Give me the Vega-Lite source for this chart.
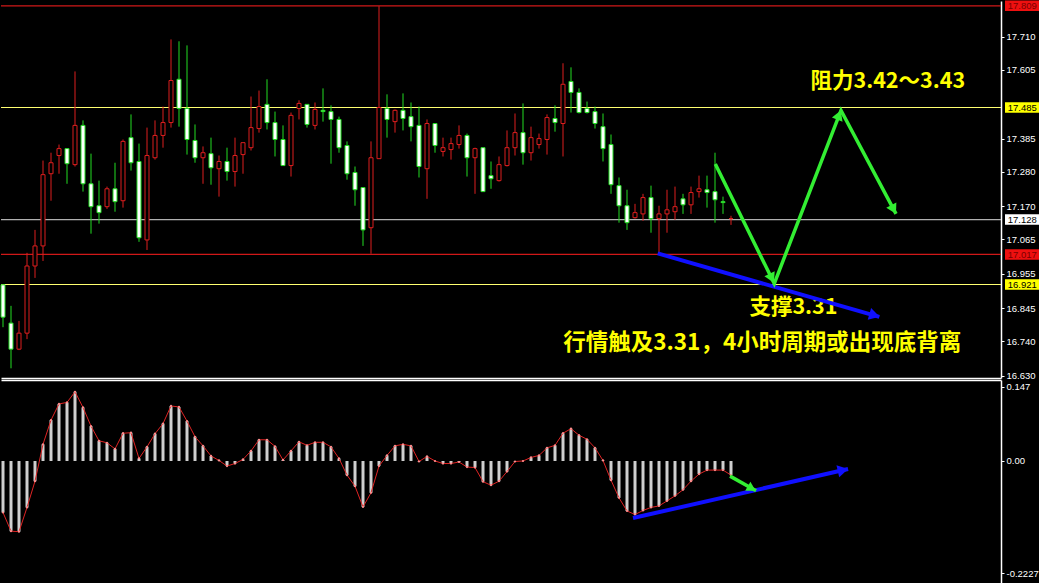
{
"$schema": "https://vega.github.io/schema/vega-lite/v6.json",
"background": "#000000",
"padding": 0,
"spacing": 2,
"bounds": "flush",
"config": {"view": {"stroke": null}, "axis": {"labelFont": "Liberation Sans", "labelFontSize": 9.5, "labelColor": "#ffffff", "domainColor": "#ffffff", "tickColor": "#ffffff", "grid": false, "title": null}},
"datasets": {
"bars": [
{"i":0,"o":16.920,"h":16.920,"l":16.785,"c":16.817,"m":-0.102},
{"i":1,"o":16.798,"h":16.853,"l":16.654,"c":16.715,"m":-0.139},
{"i":2,"o":16.715,"h":16.805,"l":16.712,"c":16.766,"m":-0.140},
{"i":3,"o":16.766,"h":17.022,"l":16.747,"c":16.980,"m":-0.092},
{"i":4,"o":16.980,"h":17.095,"l":16.942,"c":17.044,"m":-0.040},
{"i":5,"o":17.044,"h":17.316,"l":16.996,"c":17.271,"m":0.033},
{"i":6,"o":17.274,"h":17.341,"l":17.188,"c":17.309,"m":0.081},
{"i":7,"o":17.332,"h":17.367,"l":17.274,"c":17.354,"m":0.113},
{"i":8,"o":17.354,"h":17.354,"l":17.242,"c":17.306,"m":0.116},
{"i":9,"o":17.303,"h":17.600,"l":17.297,"c":17.428,"m":0.137},
{"i":10,"o":17.428,"h":17.444,"l":17.217,"c":17.242,"m":0.106},
{"i":11,"o":17.242,"h":17.338,"l":17.083,"c":17.169,"m":0.069},
{"i":12,"o":17.172,"h":17.252,"l":17.115,"c":17.150,"m":0.040},
{"i":13,"o":17.169,"h":17.233,"l":17.162,"c":17.226,"m":0.036},
{"i":14,"o":17.226,"h":17.309,"l":17.153,"c":17.185,"m":0.024},
{"i":15,"o":17.188,"h":17.383,"l":17.166,"c":17.377,"m":0.055},
{"i":16,"o":17.389,"h":17.463,"l":17.284,"c":17.309,"m":0.056},
{"i":17,"o":17.313,"h":17.370,"l":17.057,"c":17.070,"m":0.005},
{"i":18,"o":17.063,"h":17.421,"l":17.031,"c":17.332,"m":0.028},
{"i":19,"o":17.325,"h":17.444,"l":17.319,"c":17.396,"m":0.054},
{"i":20,"o":17.396,"h":17.488,"l":17.357,"c":17.437,"m":0.074},
{"i":21,"o":17.437,"h":17.702,"l":17.421,"c":17.571,"m":0.109},
{"i":22,"o":17.575,"h":17.696,"l":17.424,"c":17.482,"m":0.107},
{"i":23,"o":17.482,"h":17.683,"l":17.335,"c":17.383,"m":0.079},
{"i":24,"o":17.380,"h":17.431,"l":17.309,"c":17.325,"m":0.048},
{"i":25,"o":17.325,"h":17.361,"l":17.242,"c":17.341,"m":0.030},
{"i":26,"o":17.338,"h":17.389,"l":17.239,"c":17.293,"m":0.010},
{"i":27,"o":17.290,"h":17.332,"l":17.201,"c":17.313,"m":0.001},
{"i":28,"o":17.313,"h":17.357,"l":17.252,"c":17.281,"m":-0.010},
{"i":29,"o":17.281,"h":17.389,"l":17.233,"c":17.332,"m":-0.005},
{"i":30,"o":17.335,"h":17.373,"l":17.274,"c":17.373,"m":0.003},
{"i":31,"o":17.357,"h":17.520,"l":17.348,"c":17.421,"m":0.020},
{"i":32,"o":17.418,"h":17.539,"l":17.405,"c":17.488,"m":0.042},
{"i":33,"o":17.495,"h":17.575,"l":17.415,"c":17.437,"m":0.042},
{"i":34,"o":17.437,"h":17.472,"l":17.329,"c":17.383,"m":0.029},
{"i":35,"o":17.383,"h":17.428,"l":17.300,"c":17.300,"m":0.002},
{"i":36,"o":17.300,"h":17.469,"l":17.265,"c":17.460,"m":0.020},
{"i":37,"o":17.482,"h":17.508,"l":17.447,"c":17.498,"m":0.038},
{"i":38,"o":17.495,"h":17.495,"l":17.421,"c":17.431,"m":0.031},
{"i":39,"o":17.428,"h":17.501,"l":17.415,"c":17.479,"m":0.037},
{"i":40,"o":17.476,"h":17.546,"l":17.440,"c":17.472,"m":0.037},
{"i":41,"o":17.472,"h":17.492,"l":17.306,"c":17.447,"m":0.028},
{"i":42,"o":17.447,"h":17.456,"l":17.341,"c":17.357,"m":0.005},
{"i":43,"o":17.364,"h":17.377,"l":17.255,"c":17.274,"m":-0.028},
{"i":44,"o":17.278,"h":17.297,"l":17.172,"c":17.223,"m":-0.050},
{"i":45,"o":17.230,"h":17.230,"l":17.044,"c":17.095,"m":-0.091},
{"i":46,"o":17.102,"h":17.377,"l":17.019,"c":17.325,"m":-0.063},
{"i":47,"o":17.322,"h":17.808,"l":17.322,"c":17.485,"m":-0.010},
{"i":48,"o":17.482,"h":17.527,"l":17.389,"c":17.447,"m":0.011},
{"i":49,"o":17.440,"h":17.479,"l":17.405,"c":17.476,"m":0.030},
{"i":50,"o":17.476,"h":17.530,"l":17.412,"c":17.450,"m":0.033},
{"i":51,"o":17.456,"h":17.501,"l":17.377,"c":17.424,"m":0.030},
{"i":52,"o":17.428,"h":17.488,"l":17.262,"c":17.297,"m":-0.001},
{"i":53,"o":17.290,"h":17.447,"l":17.194,"c":17.434,"m":0.009},
{"i":54,"o":17.434,"h":17.434,"l":17.341,"c":17.364,"m":0.000},
{"i":55,"o":17.345,"h":17.389,"l":17.329,"c":17.357,"m":-0.005},
{"i":56,"o":17.351,"h":17.389,"l":17.319,"c":17.370,"m":-0.005},
{"i":57,"o":17.367,"h":17.428,"l":17.354,"c":17.396,"m":-0.002},
{"i":58,"o":17.396,"h":17.402,"l":17.265,"c":17.325,"m":-0.012},
{"i":59,"o":17.325,"h":17.357,"l":17.210,"c":17.354,"m":-0.013},
{"i":60,"o":17.357,"h":17.357,"l":17.217,"c":17.217,"m":-0.041},
{"i":61,"o":17.268,"h":17.313,"l":17.226,"c":17.258,"m":-0.048},
{"i":62,"o":17.252,"h":17.329,"l":17.249,"c":17.303,"m":-0.040},
{"i":63,"o":17.300,"h":17.412,"l":17.297,"c":17.357,"m":-0.021},
{"i":64,"o":17.357,"h":17.466,"l":17.332,"c":17.405,"m":-0.001},
{"i":65,"o":17.405,"h":17.498,"l":17.303,"c":17.341,"m":0.000},
{"i":66,"o":17.341,"h":17.424,"l":17.316,"c":17.389,"m":0.007},
{"i":67,"o":17.367,"h":17.402,"l":17.354,"c":17.386,"m":0.011},
{"i":68,"o":17.383,"h":17.463,"l":17.335,"c":17.453,"m":0.026},
{"i":69,"o":17.450,"h":17.492,"l":17.408,"c":17.437,"m":0.031},
{"i":70,"o":17.434,"h":17.626,"l":17.329,"c":17.559,"m":0.055},
{"i":71,"o":17.568,"h":17.613,"l":17.469,"c":17.533,"m":0.064},
{"i":72,"o":17.533,"h":17.546,"l":17.466,"c":17.469,"m":0.051},
{"i":73,"o":17.482,"h":17.504,"l":17.466,"c":17.469,"m":0.043},
{"i":74,"o":17.472,"h":17.488,"l":17.418,"c":17.434,"m":0.026},
{"i":75,"o":17.424,"h":17.466,"l":17.313,"c":17.354,"m":0.001},
{"i":76,"o":17.367,"h":17.399,"l":17.210,"c":17.239,"m":-0.038},
{"i":77,"o":17.236,"h":17.262,"l":17.118,"c":17.172,"m":-0.073},
{"i":78,"o":17.172,"h":17.223,"l":17.095,"c":17.118,"m":-0.099},
{"i":79,"o":17.134,"h":17.178,"l":17.131,"c":17.150,"m":-0.106},
{"i":80,"o":17.146,"h":17.210,"l":17.124,"c":17.198,"m":-0.098},
{"i":81,"o":17.198,"h":17.236,"l":17.086,"c":17.131,"m":-0.092},
{"i":82,"o":17.131,"h":17.172,"l":17.019,"c":17.146,"m":-0.089},
{"i":83,"o":17.146,"h":17.223,"l":17.086,"c":17.159,"m":-0.079},
{"i":84,"o":17.153,"h":17.233,"l":17.127,"c":17.169,"m":-0.069},
{"i":85,"o":17.194,"h":17.210,"l":17.146,"c":17.175,"m":-0.057},
{"i":86,"o":17.175,"h":17.233,"l":17.146,"c":17.214,"m":-0.040},
{"i":87,"o":17.217,"h":17.268,"l":17.198,"c":17.226,"m":-0.026},
{"i":88,"o":17.223,"h":17.268,"l":17.166,"c":17.214,"m":-0.018},
{"i":89,"o":17.217,"h":17.341,"l":17.118,"c":17.191,"m":-0.018},
{"i":90,"o":17.185,"h":17.201,"l":17.146,"c":17.182,"m":-0.018},
{"i":91,"o":17.131,"h":17.140,"l":17.111,"c":17.131,"m":-0.028}
],
"levels": [
{"level":17.809,"kind":"high"},
{"level":17.485,"kind":"resistance"},
{"level":17.128,"kind":"last"},
{"level":17.017,"kind":"low"},
{"level":16.921,"kind":"support"}
],
"notes": [
{"text":"阻力3.42～3.43","i":110.6,"p":17.565,"size":"s"},
{"text":"支撑3.31","i":98.8,"p":16.846,"size":"s"},
{"text":"行情触及3.31，4小时周期或出现底背离","i":94.9,"p":16.734,"size":"l"}
],
"greenTop": [
{"seq":0,"i":89.04,"p":17.305},
{"seq":1,"i":96.41,"p":16.924},
{"seq":2,"i":104.75,"p":17.476},
{"seq":3,"i":111.63,"p":17.146}
],
"blueTop": [
{"seq":0,"i":81.84,"p":17.020},
{"seq":1,"i":109.54,"p":16.818}
],
"blueLow": [
{"seq":0,"i":78.75,"v":-0.113},
{"seq":1,"i":105.63,"v":-0.016}
],
"greenLow": [
{"seq":0,"i":90.88,"v":-0.030},
{"seq":1,"i":94.13,"v":-0.059}
]
},
"vconcat": [
{
"width": 1000,
"height": 377,
"layer": [
{"data": {"name": "levels"}, "mark": {"type": "rule", "strokeWidth": 1.2},
 "encoding": {"y": {"field": "level", "type": "quantitative", "scale": {"domain": [16.6231, 17.8244], "nice": false, "zero": false, "padding": 0},
      "axis": {"orient": "right", "values": [17.71, 17.605, 17.385, 17.28, 17.17, 17.065, 16.955, 16.845, 16.74, 16.63], "format": ".3f", "tickSize": 3, "labelPadding": 2, "domainWidth": 1.5}},
  "stroke": {"condition": [{"test": "datum.kind == 'resistance' || datum.kind == 'support'", "value": "#ffff70"}, {"test": "datum.kind == 'last'", "value": "#b0b0b0"}], "value": "#d01818"}}},
{"data": {"name": "bars"}, "mark": {"type": "rule", "strokeWidth": 1},
 "encoding": {"x": {"field": "i", "type": "quantitative", "scale": {"domain": [-0.25, 124.75], "nice": false, "zero": false, "padding": 0},
      "axis": {"orient": "bottom", "labels": false, "ticks": false, "domain": true, "domainWidth": 1.5}},
  "y": {"field": "l", "type": "quantitative"}, "y2": {"field": "h"},
  "color": {"condition": {"test": "datum.c >= datum.o", "value": "#dc1e1e"}, "value": "#22dc22"}}},
{"data": {"name": "bars"}, "mark": {"type": "bar", "width": 4, "strokeWidth": 1},
 "encoding": {"x": {"field": "i", "type": "quantitative"}, "y": {"field": "o", "type": "quantitative"}, "y2": {"field": "c"},
  "fill": {"condition": {"test": "datum.c >= datum.o", "value": "#000000"}, "value": "#ffffff"},
  "stroke": {"condition": {"test": "datum.c >= datum.o", "value": "#dc1e1e"}, "value": "#22dc22"}}},
{"data": {"name": "notes"}, "transform": [{"filter": "datum.size == 's'"}],
 "mark": {"type": "text", "font": "Noto Sans CJK SC", "fontWeight": "bold", "fontSize": 21.5, "color": "#ffff00", "align": "center", "baseline": "middle"},
 "encoding": {"x": {"field": "i", "type": "quantitative"}, "y": {"field": "p", "type": "quantitative"}, "text": {"field": "text"}}},
{"data": {"name": "notes"}, "transform": [{"filter": "datum.size == 'l'"}],
 "mark": {"type": "text", "font": "Noto Sans CJK SC", "fontWeight": "bold", "fontSize": 22.5, "color": "#ffff00", "align": "center", "baseline": "middle"},
 "encoding": {"x": {"field": "i", "type": "quantitative"}, "y": {"field": "p", "type": "quantitative"}, "text": {"field": "text"}}},
{"data": {"name": "blueTop"}, "mark": {"type": "line", "color": "#1010ff", "strokeWidth": 4},
 "encoding": {"x": {"field": "i", "type": "quantitative"}, "y": {"field": "p", "type": "quantitative"}, "order": {"field": "seq"}}},
{"data": {"values": [{"i": 108.94, "p": 16.823}]}, "mark": {"type": "point", "shape": "triangle-right", "filled": true, "opacity": 1, "size": 150, "angle": 16, "color": "#1010ff"},
 "encoding": {"x": {"field": "i", "type": "quantitative"}, "y": {"field": "p", "type": "quantitative"}}},
{"data": {"name": "greenTop"}, "mark": {"type": "line", "color": "#33ee33", "strokeWidth": 3.5},
 "encoding": {"x": {"field": "i", "type": "quantitative"}, "y": {"field": "p", "type": "quantitative"}, "order": {"field": "seq"}}},
{"data": {"values": [{"i": 96.09, "p": 16.941}]}, "mark": {"type": "point", "shape": "triangle-right", "filled": true, "opacity": 1, "size": 130, "angle": 64, "color": "#33ee33"},
 "encoding": {"x": {"field": "i", "type": "quantitative"}, "y": {"field": "p", "type": "quantitative"}}},
{"data": {"values": [{"i": 104.5, "p": 17.461}]}, "mark": {"type": "point", "shape": "triangle-right", "filled": true, "opacity": 1, "size": 130, "angle": -69, "color": "#33ee33"},
 "encoding": {"x": {"field": "i", "type": "quantitative"}, "y": {"field": "p", "type": "quantitative"}}},
{"data": {"values": [{"i": 111.33, "p": 17.16}]}, "mark": {"type": "point", "shape": "triangle-right", "filled": true, "opacity": 1, "size": 130, "angle": 62, "color": "#33ee33"},
 "encoding": {"x": {"field": "i", "type": "quantitative"}, "y": {"field": "p", "type": "quantitative"}}},
{"data": {"name": "levels"}, "mark": {"type": "rule", "strokeWidth": 10.5},
 "encoding": {"x": {"datum": 125.25, "type": "quantitative"}, "x2": {"datum": 129.6}, "y": {"field": "level", "type": "quantitative"},
  "stroke": {"condition": [{"test": "datum.kind == 'resistance' || datum.kind == 'support'", "value": "#ffff00"}, {"test": "datum.kind == 'last'", "value": "#ffffff"}], "value": "#ee1010"}}},
{"data": {"name": "levels"}, "mark": {"type": "text", "font": "Liberation Sans", "fontSize": 9.5, "align": "left", "baseline": "middle", "dy": 0.5},
 "encoding": {"x": {"datum": 125.6, "type": "quantitative"}, "y": {"field": "level", "type": "quantitative"}, "text": {"field": "level", "type": "quantitative", "format": ".3f"},
  "fill": {"condition": {"test": "datum.kind == 'high' || datum.kind == 'low'", "value": "#7a0000"}, "value": "#000000"}}}
]
},
{
"width": 1000,
"height": 204,
"layer": [
{"data": {"name": "bars"}, "mark": {"type": "rule", "strokeWidth": 3, "color": "#cfcfcf"},
 "encoding": {"x": {"field": "i", "type": "quantitative", "scale": {"domain": [-0.25, 124.75], "nice": false, "zero": false, "padding": 0},
      "axis": {"orient": "top", "labels": false, "ticks": false, "domain": true, "domainWidth": 1.5}},
  "y": {"field": "m", "type": "quantitative", "scale": {"domain": [-0.2436, 0.1604], "nice": false, "zero": false, "padding": 0},
      "axis": {"orient": "right", "values": [0.147, 0, -0.2227], "labelExpr": "datum.value == 0 ? '0.00' : toString(datum.value)", "tickSize": 3, "labelPadding": 2, "domainWidth": 1.5}},
  "y2": {"datum": 0}}},
{"data": {"name": "bars"}, "mark": {"type": "line", "color": "#e02424", "strokeWidth": 1, "point": {"filled": true, "size": 5, "color": "#ff9090"}},
 "encoding": {"x": {"field": "i", "type": "quantitative"}, "y": {"field": "m", "type": "quantitative"}}},
{"data": {"name": "blueLow"}, "mark": {"type": "line", "color": "#1010ff", "strokeWidth": 4},
 "encoding": {"x": {"field": "i", "type": "quantitative"}, "y": {"field": "v", "type": "quantitative"}, "order": {"field": "seq"}}},
{"data": {"values": [{"i": 105.0, "v": -0.018}]}, "mark": {"type": "point", "shape": "triangle-right", "filled": true, "opacity": 1, "size": 150, "angle": -13, "color": "#1010ff"},
 "encoding": {"x": {"field": "i", "type": "quantitative"}, "y": {"field": "v", "type": "quantitative"}}},
{"data": {"name": "greenLow"}, "mark": {"type": "line", "color": "#33ee33", "strokeWidth": 3.5},
 "encoding": {"x": {"field": "i", "type": "quantitative"}, "y": {"field": "v", "type": "quantitative"}, "order": {"field": "seq"}}},
{"data": {"values": [{"i": 93.59, "v": -0.0545}]}, "mark": {"type": "point", "shape": "triangle-right", "filled": true, "opacity": 1, "size": 110, "angle": 30, "color": "#33ee33"},
 "encoding": {"x": {"field": "i", "type": "quantitative"}, "y": {"field": "v", "type": "quantitative"}}}
]
}
]
}
